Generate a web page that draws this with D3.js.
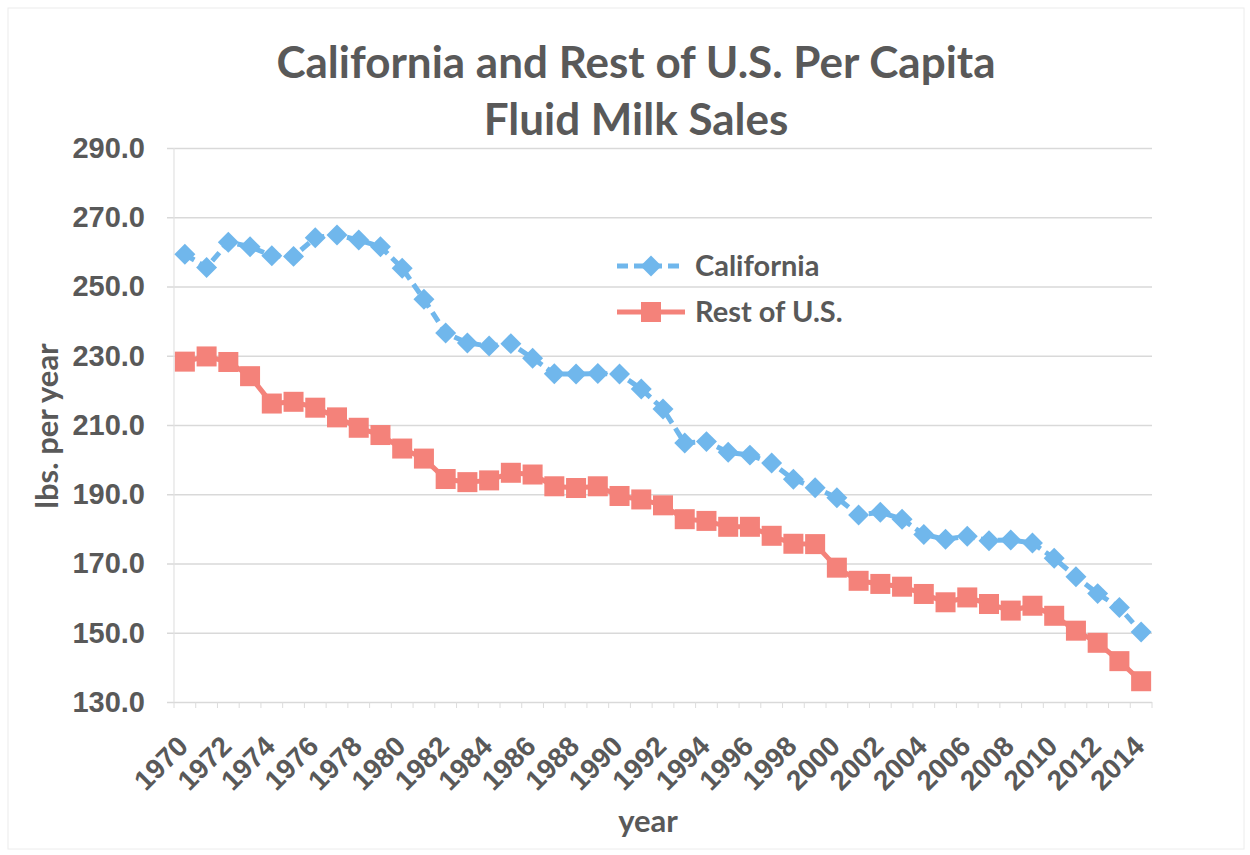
<!DOCTYPE html>
<html>
<head>
<meta charset="utf-8">
<script src="https://cdnjs.cloudflare.com/ajax/libs/d3/7.8.5/d3.min.js"></script>
<style>
body { margin: 0; background: #fff; }
svg { display: block; font-family: Lato, "Open Sans", sans-serif; }
</style>
</head>
<body>
<div id="chart"></div>
<script>
// categories
var years = [1970,1971,1972,1973,1974,1975,1976,1977,1978,1979,
             1980,1981,1982,1983,1984,1985,1986,1987,1988,1989,
             1990,1991,1992,1993,1994,1995,1996,1997,1998,1999,
             2000,2001,2002,2003,2004,2005,2006,2007,2008,2009,
             2010,2011,2012,2013,2014];

// lbs. per year
var california = [259.3,255.5,262.8,261.5,258.9,258.7,264.1,264.9,263.4,261.5,
                  255.3,246.3,236.6,233.7,232.8,233.5,229.3,224.8,224.7,224.9,
                  224.7,220.4,214.6,204.8,205.2,202.1,201.3,199.0,194.3,191.9,
                  189.0,184.0,184.8,182.8,178.4,177.0,177.9,176.6,176.8,175.9,
                  171.5,166.2,161.3,157.3,150.2];

var restOfUS = [228.3,229.8,228.2,224.1,216.2,216.7,215.0,212.2,209.2,207.1,
                203.2,200.3,194.4,193.5,194.0,196.2,195.7,192.3,191.8,192.3,
                189.5,188.5,186.8,182.8,182.3,180.6,180.6,178.0,175.7,175.6,
                168.8,165.0,164.1,163.3,161.2,158.8,160.2,158.3,156.4,157.8,
                154.9,150.6,147.1,141.8,136.0];

var yTicks = [130,150,170,190,210,230,250,270,290];
var xTickYears = [1970,1972,1974,1976,1978,1980,1982,1984,1986,1988,1990,1992,
                  1994,1996,1998,2000,2002,2004,2006,2008,2010,2012,2014];

var seriesNames = ["California", "Rest of U.S."];

var W = 1250, H = 855;
var plot = {left: 174, right: 1152, top: 148, bottom: 702};
var textCol = '#595959';
var blue = '#70b7ec', red = '#f4827a';

var svg = d3.select('#chart').append('svg')
  .attr('width', W).attr('height', H);

svg.append('rect')
  .attr('x', 8).attr('y', 8).attr('width', W - 14).attr('height', H - 14)
  .attr('fill', '#fff').attr('stroke', '#ececec');

var x = d3.scaleBand().domain(years).range([plot.left, plot.right]);
var y = d3.scaleLinear().domain([130, 290]).range([plot.bottom, plot.top]);
var cx = function(yr) { return x(yr) + x.bandwidth() / 2; };

// gridlines
svg.append('g')
  .attr('transform', 'translate(' + plot.right + ',0)')
  .call(d3.axisLeft(y).tickValues(yTicks).tickSize(plot.right - plot.left + 7).tickFormat(''))
  .call(function(g) {
    g.select('.domain').remove();
    g.selectAll('line').attr('stroke', '#d9d9d9').attr('stroke-width', 1.3);
  });

// left axis line
svg.append('line')
  .attr('x1', plot.left).attr('x2', plot.left)
  .attr('y1', plot.top).attr('y2', plot.bottom)
  .attr('stroke', '#e2e2e2').attr('stroke-width', 1.2);

// y tick labels
svg.append('g')
  .attr('transform', 'translate(' + plot.left + ',0)')
  .call(d3.axisLeft(y).tickValues(yTicks).tickSize(0).tickPadding(29).tickFormat(d3.format('.1f')))
  .call(function(g) {
    g.select('.domain').remove();
    g.selectAll('text')
      .attr('fill', textCol).attr('font-size', '29px').attr('font-weight', 'bold');
  });

// x axis with small category ticks
svg.append('g')
  .attr('transform', 'translate(0,' + plot.bottom + ')')
  .selectAll('line').data(years.concat([null]))
  .join('line')
  .attr('x1', function(d, i) { return plot.left + i * x.step(); })
  .attr('x2', function(d, i) { return plot.left + i * x.step(); })
  .attr('y1', 0).attr('y2', 6)
  .attr('stroke', '#dcdcdc');

svg.append('g')
  .attr('transform', 'translate(0,' + plot.bottom + ')')
  .call(d3.axisBottom(x).tickValues(xTickYears).tickSize(0))
  .call(function(g) {
    g.select('.domain').remove();
    g.selectAll('text')
      .attr('x', 0).attr('y', 0).attr('dy', 0)
      .attr('text-anchor', 'end')
      .attr('transform', 'translate(5,46) rotate(-45)')
      .attr('fill', textCol).attr('font-size', '28px').attr('font-weight', 'bold');
  });

// lines
var line = d3.line()
  .x(function(d, i) { return cx(years[i]); })
  .y(function(d) { return y(d); });

svg.append('path').datum(california)
  .attr('d', line).attr('fill', 'none')
  .attr('stroke', blue).attr('stroke-width', 5)
  .attr('stroke-dasharray', '11,6');

svg.append('path').datum(restOfUS)
  .attr('d', line).attr('fill', 'none')
  .attr('stroke', red).attr('stroke-width', 5);

var diamond = d3.symbol().type(d3.symbolSquare).size(220);

svg.append('g').selectAll('path').data(california)
  .join('path')
  .attr('d', diamond)
  .attr('transform', function(d, i) { return 'translate(' + cx(years[i]) + ',' + y(d) + ') rotate(45)'; })
  .attr('fill', blue);

svg.append('g').selectAll('rect').data(restOfUS)
  .join('rect')
  .attr('x', function(d, i) { return cx(years[i]) - 10; })
  .attr('y', function(d) { return y(d) - 10; })
  .attr('width', 20).attr('height', 20)
  .attr('fill', red);

// legend
var legend = svg.append('g').attr('transform', 'translate(617,266)');
var items = [
  {name: seriesNames[0], color: blue, dash: '11,6', shape: 'diamond'},
  {name: seriesNames[1], color: red, dash: null, shape: 'square'}
];
items.forEach(function(it, i) {
  var g = legend.append('g').attr('transform', 'translate(0,' + (i * 46) + ')');
  g.append('line').attr('x1', 0).attr('x2', 68).attr('y1', 0).attr('y2', 0)
    .attr('stroke', it.color).attr('stroke-width', 5)
    .attr('stroke-dasharray', it.dash);
  if (it.shape === 'diamond') {
    g.append('path').attr('d', diamond).attr('transform', 'translate(34,0) rotate(45)').attr('fill', it.color);
  } else {
    g.append('rect').attr('x', 24).attr('y', -10).attr('width', 20).attr('height', 20).attr('fill', it.color);
  }
  g.append('text').attr('x', 78).attr('y', 10)
    .attr('fill', textCol).attr('font-size', '29px').attr('font-weight', 'bold')
    .text(it.name);
});

// titles
svg.append('text')
  .attr('x', 636).attr('y', 78).attr('text-anchor', 'middle')
  .attr('fill', textCol).attr('font-size', '44px').attr('font-weight', 'bold')
  .text('California and Rest of U.S. Per Capita');
svg.append('text')
  .attr('x', 636).attr('y', 135).attr('text-anchor', 'middle')
  .attr('fill', textCol).attr('font-size', '44px').attr('font-weight', 'bold')
  .text('Fluid Milk Sales');

svg.append('text')
  .attr('transform', 'translate(58,426) rotate(-90)')
  .attr('text-anchor', 'middle')
  .attr('fill', textCol).attr('font-size', '31px').attr('font-weight', 'bold')
  .text('lbs. per year');

svg.append('text')
  .attr('x', 648).attr('y', 832).attr('text-anchor', 'middle')
  .attr('fill', textCol).attr('font-size', '31px').attr('font-weight', 'bold')
  .text('year');
</script>
</body>
</html>
